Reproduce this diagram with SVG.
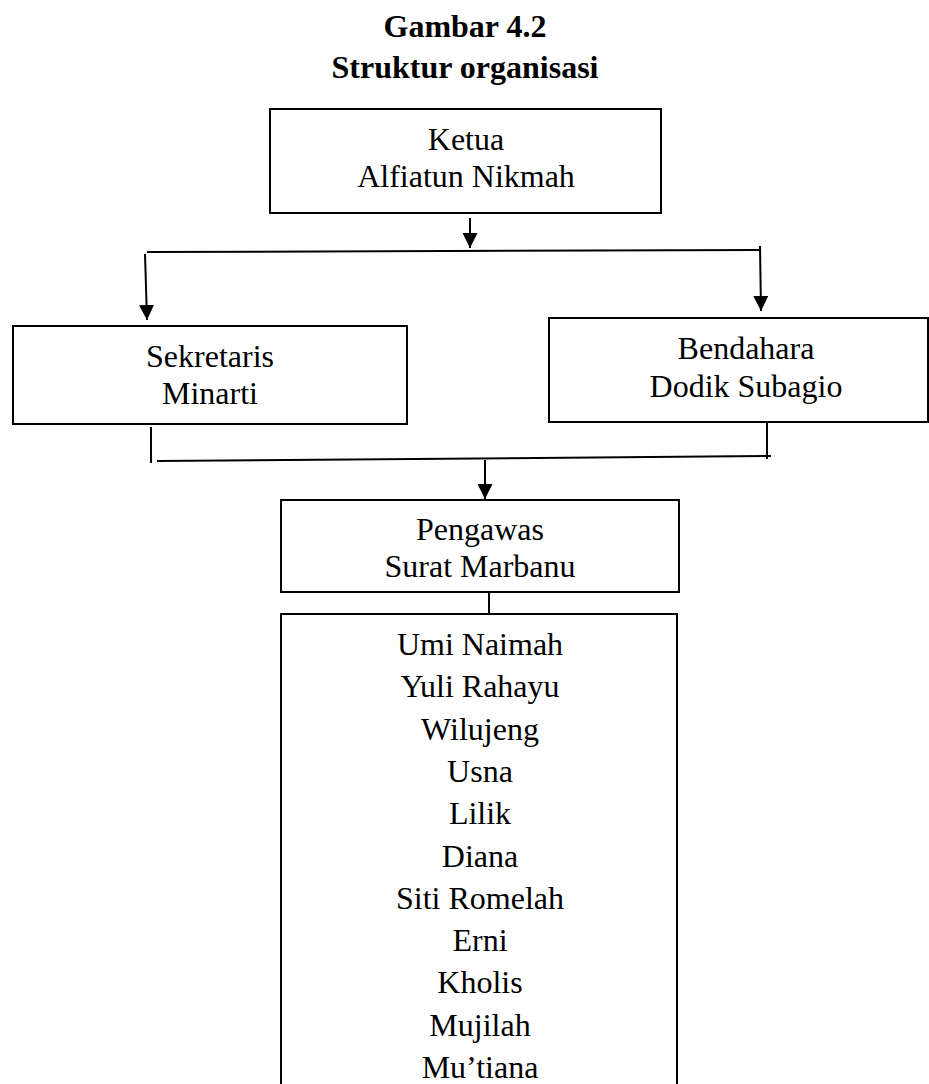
<svg xmlns="http://www.w3.org/2000/svg" width="929" height="1084" viewBox="0 0 929 1084">
<style>
.t{font-family:"Liberation Serif","Times New Roman",serif;font-size:32px;fill:#000;text-anchor:middle}
.h{font-weight:bold}
.box{fill:#fff;stroke:#000;stroke-width:2}
.c{fill:none;stroke:#000;stroke-width:2}
</style>
<defs>
<marker id="ah" markerUnits="userSpaceOnUse" markerWidth="16" markerHeight="16" refX="15" refY="7.5" orient="auto">
<path d="M0,0 L15,7.5 L0,15 z" fill="#000"/>
</marker>
</defs>
<rect width="929" height="1084" fill="#fff"/>
<g id="title">
<text class="t h" x="465" y="37">Gambar 4.2</text>
<text class="t h" x="465" y="78">Struktur organisasi</text>
</g>
<g id="connectors">
<line class="c" x1="470" y1="218" x2="470" y2="248" marker-end="url(#ah)"/>
<line class="c" x1="147" y1="252" x2="760" y2="250"/>
<line class="c" x1="145" y1="254" x2="147" y2="320" marker-end="url(#ah)"/>
<line class="c" x1="760" y1="246" x2="761" y2="311" marker-end="url(#ah)"/>
<line class="c" x1="151" y1="427" x2="151" y2="463"/>
<line class="c" x1="157" y1="461" x2="771" y2="456"/>
<line class="c" x1="767" y1="422" x2="767" y2="459"/>
<line class="c" x1="485" y1="460" x2="485" y2="499" marker-end="url(#ah)"/>
<line class="c" x1="489" y1="592" x2="489" y2="614"/>
</g>
<g id="ketua">
<rect class="box" x="270" y="109" width="391" height="104"/>
<text class="t" x="466" y="150">Ketua</text>
<text class="t" x="466" y="187">Alfiatun Nikmah</text>
</g>
<g id="sekretaris">
<rect class="box" x="13" y="326" width="394" height="98"/>
<text class="t" x="210" y="367">Sekretaris</text>
<text class="t" x="210" y="404">Minarti</text>
</g>
<g id="bendahara">
<rect class="box" x="549" y="318" width="379" height="104"/>
<text class="t" x="746" y="359">Bendahara</text>
<text class="t" x="746" y="397">Dodik Subagio</text>
</g>
<g id="pengawas">
<rect class="box" x="281" y="500" width="398" height="92"/>
<text class="t" x="480" y="540">Pengawas</text>
<text class="t" x="480" y="577">Surat Marbanu</text>
</g>
<g id="anggota">
<rect class="box" x="281" y="614" width="396" height="500"/>
<text class="t" x="480" y="655">Umi Naimah</text>
<text class="t" x="480" y="697">Yuli Rahayu</text>
<text class="t" x="480" y="740">Wilujeng</text>
<text class="t" x="480" y="782">Usna</text>
<text class="t" x="480" y="824">Lilik</text>
<text class="t" x="480" y="867">Diana</text>
<text class="t" x="480" y="909">Siti Romelah</text>
<text class="t" x="480" y="951">Erni</text>
<text class="t" x="480" y="993">Kholis</text>
<text class="t" x="480" y="1036">Mujilah</text>
<text class="t" x="480" y="1078">Mu’tiana</text>
</g>
</svg>
